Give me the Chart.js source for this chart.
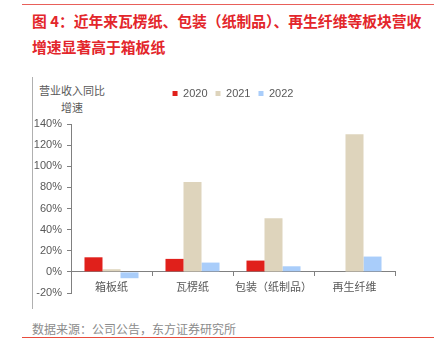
<!DOCTYPE html>
<html>
<head>
<meta charset="utf-8">
<script src="https://cdn.jsdelivr.net/npm/chart.js@4/dist/chart.umd.min.js"></script>
<style>
  html, body { margin: 0; padding: 0; background: #fff; }
  body { width: 440px; height: 350px; position: relative; overflow: hidden;
         font-family: "Liberation Sans", "Noto Sans CJK SC", sans-serif; }
  .rule { position: absolute; left: 22px; width: 412px; height: 1px; }
  .title { position: absolute; left: 32px; color: #e3262b; font-weight: bold;
           font-size: 14.8px; line-height: 25.5px; font-family: "Noto Sans CJK SC", sans-serif; white-space: nowrap; }
  .ytitle { position: absolute; left: 36px; top: 82px; width: 72px; text-align: center;
            color: #595959; font-size: 11px; line-height: 17px; font-family: "Noto Sans CJK SC", sans-serif; }
  .frame { position: absolute; left: 32px; top: 77px; width: 1px; height: 232px; background: #b0b0b0; }
  .source { position: absolute; left: 32px; top: 320px; color: #8c8c8c; font-size: 12px;
            font-family: "Noto Sans CJK SC", sans-serif; white-space: nowrap; }
  #barChart { position: absolute; left: 0; top: 0; }
</style>
</head>
<body>
<div class="rule" style="top:4px;background:#e8605a;"></div>
<div class="title" style="top:8px;">图 4：近年来瓦楞纸、包装（纸制品）、再生纤维等板块营收<br>增速显著高于箱板纸</div>
<div class="frame"></div>
<div class="ytitle">营业收入同比<br>增速</div>
<div class="source">数据来源：公司公告，东方证券研究所</div>
<div class="rule" style="top:337px;background:#e84c3d;"></div>
<canvas id="barChart" width="440" height="350"></canvas>
<script>
/******** data *********** */
const categories = ["箱板纸", "瓦楞纸", "包装（纸制品）", "再生纤维"];
const years = ["2020", "2021", "2022"];
const growth2020 = [13.8, 12.3, 10.7, null];
const growth2021 = [2.5, 85.1, 50.7, 130.2];
const growth2022 = [-6, 8.8, 5.3, 14.5];
const yTicks = [-20, 0, 20, 40, 60, 80, 100, 120, 140];

const barColors = ["#e0201b", "#ded4bc", "#a9cdfa"];
const axisGray = "#808080";
const labelFont = { family: '"Liberation Sans", "Noto Sans CJK SC", sans-serif', size: 11 };

// legend spacing tweak
const legendGap = {
    id: "legendGap",
    beforeInit(chart) {
        const origFit = chart.legend.fit;
        chart.legend.fit = function () {
            origFit.bind(chart.legend)();
            this.height += 15;
        };
    },
};

const ctx = document.getElementById("barChart").getContext("2d");
const barChart = new Chart(ctx, {
    type: "bar",
    data: {
        labels: categories,
        datasets: [growth2020, growth2021, growth2022].map((vals, i) => ({
            label: years[i],
            data: vals,
            backgroundColor: barColors[i],
            borderWidth: 0,
            categoryPercentage: 0.667,
            barPercentage: 1.0,
        })),
    },
    options: {
        responsive: false,
        animation: false,
        layout: {
            padding: { left: 0, right: 45, top: 80, bottom: 57 },
        },
        plugins: {
            legend: {
                position: "top",
                align: "center",
                fullSize: false,
                labels: {
                    boxWidth: 5,
                    boxHeight: 5,
                    padding: 8,
                    color: "#595959",
                    font: labelFont,
                },
            },
            tooltip: { enabled: false },
        },
        scales: {
            x: {
                position: { y: 0 },
                grid: {
                    offset: true,
                    drawOnChartArea: false,
                    drawTicks: true,
                    tickLength: 4,
                    color: axisGray,
                },
                border: { display: true, color: axisGray },
                ticks: {
                    color: "#595959",
                    font: labelFont,
                    padding: 5,
                    maxRotation: 0,
                    autoSkip: false,
                },
            },
            y: {
                min: -20,
                max: 140,
                afterBuildTicks(scale) {
                    scale.ticks = yTicks.map((v) => ({ value: v }));
                },
                afterFit(scale) {
                    scale.width = 71;
                },
                grid: {
                    drawOnChartArea: false,
                    drawTicks: true,
                    tickLength: 4,
                    color: axisGray,
                },
                border: { display: true, color: axisGray },
                ticks: {
                    color: "#595959",
                    font: labelFont,
                    padding: 5,
                    callback: (v) => v + "%",
                },
            },
        },
    },
    plugins: [legendGap],
});
</script>
</body>
</html>
